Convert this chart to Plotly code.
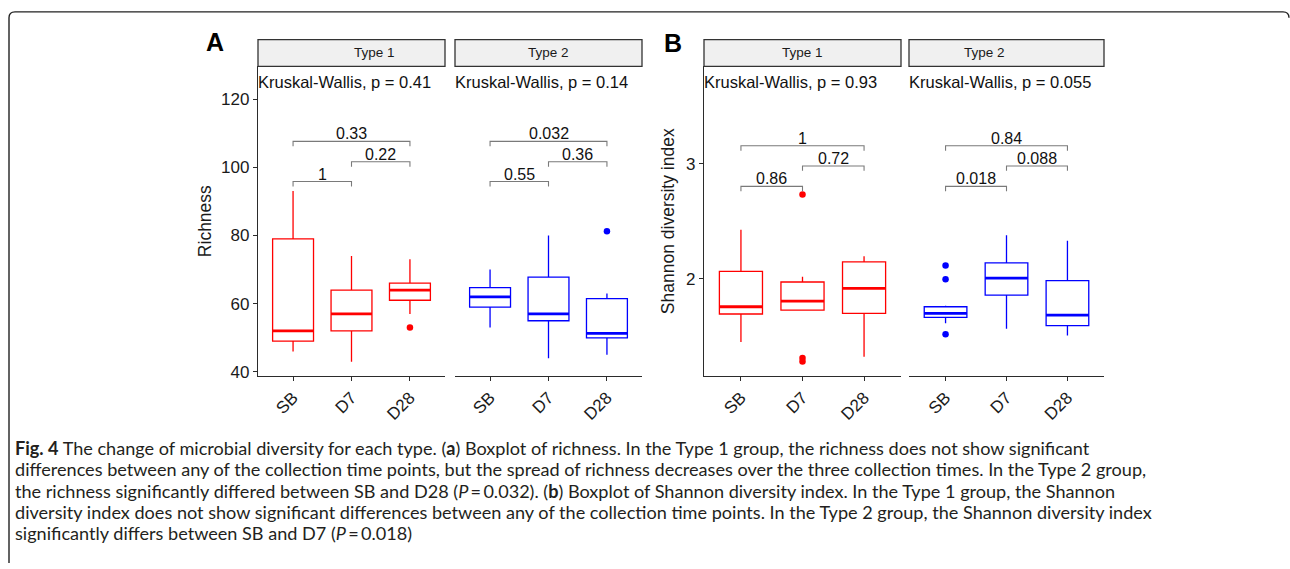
import plotly.graph_objects as go

W, H = 1290, 569

# ---------------- data ----------------
cats = ["SB", "D7", "D28"]
types = ["Type 1", "Type 2"]

# Richness, Type 1 (red)
rich_t1_lower = [46, 43, 57]
rich_t1_q1 = [49, 52, 61]
rich_t1_med = [52, 57, 64]
rich_t1_q3 = [79, 64, 66]
rich_t1_upper = [93, 74, 73]
rich_t1_out_x = ["D28"]
rich_t1_out_y = [53]

# Richness, Type 2 (blue)
rich_t2_lower = [53, 44, 45]
rich_t2_q1 = [59, 55, 50]
rich_t2_med = [62, 57, 51.3]
rich_t2_q3 = [64.7, 67.8, 61.5]
rich_t2_upper = [70, 80, 63]
rich_t2_out_x = ["D28"]
rich_t2_out_y = [81.2]

# Shannon, Type 1 (red)
shan_t1_lower = [1.45, 1.727, 1.32]
shan_t1_q1 = [1.693, 1.727, 1.698]
shan_t1_med = [1.756, 1.805, 1.917]
shan_t1_q3 = [2.064, 1.972, 2.147]
shan_t1_upper = [2.426, 2.017, 2.196]
shan_t1_out_x = ["D7", "D7", "D7"]
shan_t1_out_y = [2.733, 1.31, 1.28]

# Shannon, Type 2 (blue)
shan_t2_lower = [1.612, 1.564, 1.506]
shan_t2_q1 = [1.664, 1.857, 1.592]
shan_t2_med = [1.698, 2.006, 1.684]
shan_t2_q3 = [1.756, 2.138, 1.983]
shan_t2_upper = [1.765, 2.379, 2.331]
shan_t2_out_x = ["SB", "SB", "SB"]
shan_t2_out_y = [2.115, 1.995, 1.517]

# Pairwise comparisons (group1, group2, label, bracket level)
rich_t1_cmp = [("SB", "D7", "1", 95.8), ("D7", "D28", "0.22", 101.6), ("SB", "D28", "0.33", 107.6)]
rich_t2_cmp = [("SB", "D7", "0.55", 95.8), ("D7", "D28", "0.36", 101.6), ("SB", "D28", "0.032", 107.6)]
shan_t1_cmp = [("SB", "D7", "0.86", 2.805), ("D7", "D28", "0.72", 2.983), ("SB", "D28", "1", 3.159)]
shan_t2_cmp = [("SB", "D7", "0.018", 2.805), ("D7", "D28", "0.088", 2.983), ("SB", "D28", "0.84", 3.159)]

kw_labels = ["Kruskal-Wallis, p = 0.41", "Kruskal-Wallis, p = 0.14",
             "Kruskal-Wallis, p = 0.93", "Kruskal-Wallis, p = 0.055"]

rich_ticks = [40, 60, 80, 100, 120]
shan_ticks = [2, 3]

caption_lines = [
    "<b>Fig. 4</b> The change of microbial diversity for each type. (<b>a</b>) Boxplot of richness. In the Type 1 group, the richness does not show significant",
    "differences between any of the collection time points, but the spread of richness decreases over the three collection times. In the Type 2 group,",
    "the richness significantly differed between SB and D28 (<i>P</i>\u2009=\u20090.032). (<b>b</b>) Boxplot of Shannon diversity index. In the Type 1 group, the Shannon",
    "diversity index does not show significant differences between any of the collection time points. In the Type 2 group, the Shannon diversity index",
    "significantly differs between SB and D7 (<i>P</i>\u2009=\u20090.018)",
]

# ---------------- helpers ----------------
def fx(px):
    return px / W

def fy(py):
    return 1 - py / H

RED = "#FF0000"
BLUE = "#0000FF"
AX = "#2b2b2b"
FONT = "Liberation Sans, Arial, sans-serif"
BOXW = 0.7

fig = go.Figure()

panels = [
    ("x", "y", rich_t1_lower, rich_t1_q1, rich_t1_med, rich_t1_q3, rich_t1_upper, rich_t1_out_x, rich_t1_out_y, RED, rich_t1_cmp, 1.45),
    ("x2", "y", rich_t2_lower, rich_t2_q1, rich_t2_med, rich_t2_q3, rich_t2_upper, rich_t2_out_x, rich_t2_out_y, BLUE, rich_t2_cmp, 1.45),
    ("x3", "y2", shan_t1_lower, shan_t1_q1, shan_t1_med, shan_t1_q3, shan_t1_upper, shan_t1_out_x, shan_t1_out_y, RED, shan_t1_cmp, 0.043),
    ("x4", "y2", shan_t2_lower, shan_t2_q1, shan_t2_med, shan_t2_q3, shan_t2_upper, shan_t2_out_x, shan_t2_out_y, BLUE, shan_t2_cmp, 0.043),
]

annotations = []
for (xa, ya, lo, q1, md, q3, up, ox, oy, col, cmp, drop) in panels:
    pos = list(range(len(cats)))
    fig.add_trace(go.Box(
        x=pos, lowerfence=lo, q1=q1, median=md, q3=q3, upperfence=up,
        width=BOXW, whiskerwidth=0, fillcolor="rgba(255,255,255,0)",
        line=dict(color=col, width=1.3), boxpoints=False,
        xaxis=xa, yaxis=ya, showlegend=False, hoverinfo="skip"))
    mx, my = [], []
    for i, m in zip(pos, md):
        mx += [i - BOXW / 2, i + BOXW / 2, None]
        my += [m, m, None]
    fig.add_trace(go.Scatter(x=mx, y=my, mode="lines", line=dict(color=col, width=2.8),
                             xaxis=xa, yaxis=ya, showlegend=False, hoverinfo="skip"))
    fig.add_trace(go.Scatter(x=[cats.index(c) for c in ox], y=oy, mode="markers",
                             marker=dict(color=col, size=6.5),
                             xaxis=xa, yaxis=ya, showlegend=False, hoverinfo="skip"))
    for g1, g2, lab, lvl in cmp:
        a, b = cats.index(g1), cats.index(g2)
        fig.add_trace(go.Scatter(x=[a, a, b, b], y=[lvl - drop, lvl, lvl, lvl - drop],
                                 mode="lines", line=dict(color="#7a7a7a", width=1.1),
                                 xaxis=xa, yaxis=ya, showlegend=False, hoverinfo="skip"))
        annotations.append(dict(x=(a + b) / 2, y=lvl, xref=xa, yref=ya, text=lab,
                                showarrow=False, yanchor="bottom", yshift=-3,
                                font=dict(size=16, color="#111111", family=FONT)))

xdoms = {"x": (258, 445), "x2": (455, 642), "x3": (704, 901), "x4": (909, 1104)}
plot_top, plot_bot = 67, 380
strip_top = 40

axis_common = dict(showgrid=False, zeroline=False, showline=True, linecolor=AX, linewidth=1.3,
                   ticks="outside", ticklen=4, tickwidth=1.2, tickcolor=AX,
                   tickfont=dict(size=17, color="#1a1a1a", family=FONT), fixedrange=True)

layout = dict(
    width=W, height=H, margin=dict(l=0, r=0, t=0, b=0),
    paper_bgcolor="white", plot_bgcolor="white", showlegend=False,
)
for key, (a, b) in xdoms.items():
    name = "xaxis" if key == "x" else "xaxis" + key[1:]
    anchor = "y" if key in ("x", "x2") else "y2"
    layout[name] = dict(axis_common, domain=[fx(a), fx(b)], range=[-0.6, 2.6], anchor=anchor,
                        tickmode="array", tickvals=list(range(len(cats))), ticktext=cats,
                        tickangle=-45)
layout["yaxis"] = dict(axis_common, domain=[fy(plot_bot), fy(plot_top)], range=[38.8, 129.6],
                       anchor="x", tickmode="array", tickvals=rich_ticks)
layout["yaxis2"] = dict(axis_common, domain=[fy(plot_bot), fy(plot_top)], range=[1.153, 3.851],
                        anchor="x3", tickmode="array", tickvals=shan_ticks)

shapes = []
for i, (key, (a, b)) in enumerate(xdoms.items()):
    shapes.append(dict(type="rect", xref="paper", yref="paper",
                       x0=fx(a), x1=fx(b), y0=fy(plot_top), y1=fy(strip_top),
                       fillcolor="#F0F0F0", line=dict(color="#333333", width=1.3), layer="above"))
    annotations.append(dict(x=fx((a + b) / 2), y=fy((plot_top + strip_top) / 2), xref="paper", yref="paper",
                            text=types[i % 2], showarrow=False, yanchor="middle",
                            font=dict(size=13.5, color="#1a1a1a", family=FONT)))
    annotations.append(dict(x=fx(a), y=fy(83), xref="paper", yref="paper", text=kw_labels[i],
                            showarrow=False, xanchor="left", yanchor="middle", xshift=-2,
                            font=dict(size=16.5, color="#111111", family=FONT)))

annotations.append(dict(x=fx(205), y=fy((plot_top + plot_bot) / 2), xref="paper", yref="paper",
                        text="Richness", textangle=-90, showarrow=False,
                        xanchor="center", yanchor="middle",
                        font=dict(size=17.5, color="#1a1a1a", family=FONT)))
annotations.append(dict(x=fx(668), y=fy((plot_top + plot_bot) / 2), xref="paper", yref="paper",
                        text="Shannon diversity index", textangle=-90, showarrow=False,
                        xanchor="center", yanchor="middle",
                        font=dict(size=17.5, color="#1a1a1a", family=FONT)))
annotations.append(dict(x=fx(214.5), y=fy(42.5), xref="paper", yref="paper", text="<b>A</b>",
                        showarrow=False, xanchor="center", yanchor="middle",
                        font=dict(size=25, color="black", family=FONT)))
annotations.append(dict(x=fx(673), y=fy(43.5), xref="paper", yref="paper", text="<b>B</b>",
                        showarrow=False, xanchor="center", yanchor="middle",
                        font=dict(size=25, color="black", family=FONT)))

for i, line in enumerate(caption_lines):
    annotations.append(dict(x=fx(13), y=fy(453 + 21.5 * i), xref="paper", yref="paper",
                            text=line, showarrow=False, xanchor="left", yanchor="middle",
                            font=dict(size=18.1, color="#231F20", family="Lato, sans-serif")))

shapes.append(dict(type="path", xref="paper", yref="paper",
                   path=f"M {fx(9)} {fy(569)} L {fx(9)} {fy(18)} Q {fx(9)} {fy(12)} {fx(15)} {fy(12)} "
                        f"L {fx(1283)} {fy(12)} Q {fx(1289)} {fy(12)} {fx(1289)} {fy(18)}",
                   line=dict(color="#222222", width=1.4)))

layout["shapes"] = shapes
layout["annotations"] = annotations
fig.update_layout(**layout)

fig.write_html("out.html")
